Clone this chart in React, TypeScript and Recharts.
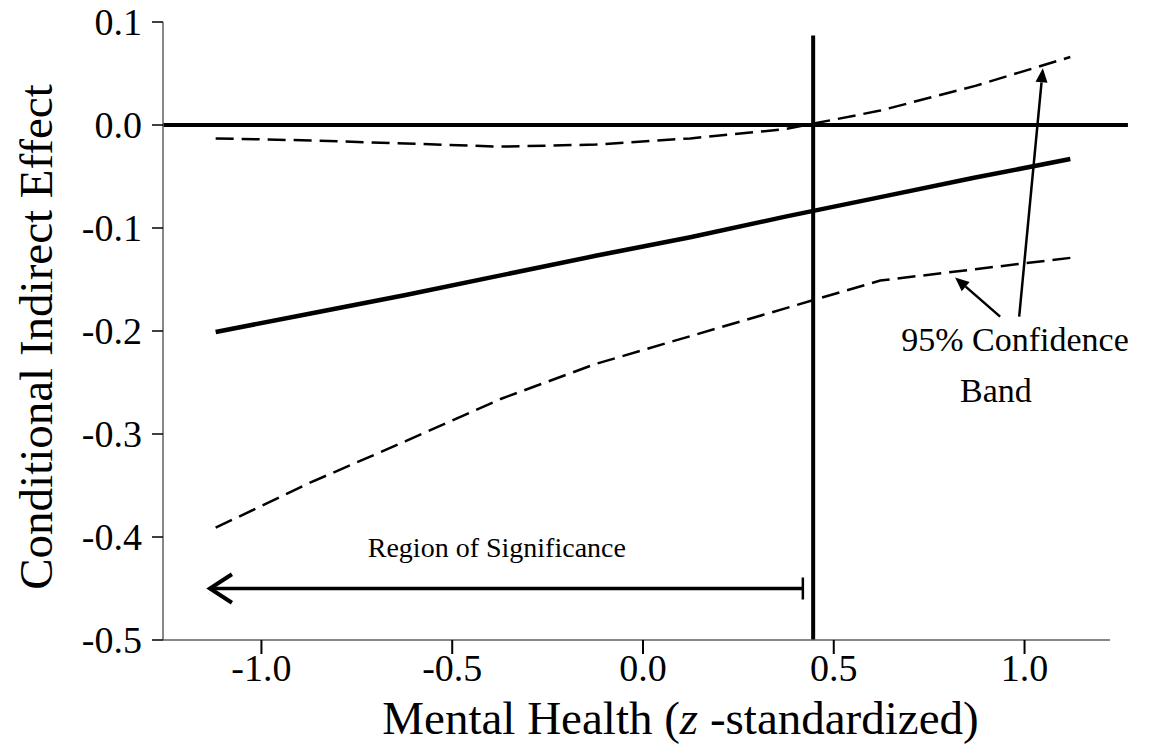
import React from 'react';
import { ComposedChart, Line, XAxis, YAxis, ReferenceLine, ReferenceDot, Label } from 'recharts';

const moderator = [-1.12, -0.871, -0.622, -0.373, -0.124, 0.124, 0.373, 0.622, 0.871, 1.12];
const effect = [-0.201, -0.183, -0.165, -0.146, -0.127, -0.109, -0.089, -0.07, -0.051, -0.033];
const lowerCI = [-0.391, -0.347, -0.307, -0.266, -0.232, -0.205, -0.178, -0.151, -0.14, -0.129];
const upperCI = [-0.013, -0.015, -0.018, -0.021, -0.019, -0.013, -0.004, 0.014, 0.038, 0.066];
const xTicks = [-1.0, -0.5, 0.0, 0.5, 1.0];
const yTicks = [0.1, 0.0, -0.1, -0.2, -0.3, -0.4, -0.5];
const xDomain: [number, number] = [-1.258, 1.224];
const yDomain: [number, number] = [-0.5, 0.1];
const jnPoint = 0.446;
const zeroLineEnd = 1.271;
const verticalTop = 0.087;
const regionArrow = { from: 0.419, to: -1.135, y: -0.45 };
const regionText = { x: -0.383, y: -0.41, text: 'Region of Significance' };
const bandText1 = { x: 0.975, y: -0.208, text: '95% Confidence' };
const bandText2 = { x: 0.925, y: -0.258, text: 'Band' };
const bandArrowLower = [{ x: 0.936, y: -0.186 }, { x: 0.818, y: -0.148 }];
const bandArrowUpper = [{ x: 0.986, y: -0.186 }, { x: 1.048, y: 0.055 }];

const data = moderator.map((x, i) => ({ x, effect: effect[i], lower: lowerCI[i], upper: upperCI[i] }));

const FONT = "'Liberation Serif', 'Times New Roman', serif";

const RegionArrowShape = (p: any) => {
  const { x1, y1, x2, y2 } = p;
  const head = 22;
  return (
    <g>
      <line x1={x1} y1={y1} x2={x2} y2={y2} stroke="#000" strokeWidth={3.5} />
      <line x1={x1} y1={y1 - 11} x2={x1} y2={y1 + 11} stroke="#000" strokeWidth={2.5} />
      <polyline
        points={`${x2 + head},${y2 - head * 0.65} ${x2},${y2} ${x2 + head},${y2 + head * 0.65}`}
        fill="none"
        stroke="#000"
        strokeWidth={4}
      />
    </g>
  );
};

const FilledArrowShape = (p: any) => {
  const { x1, y1, x2, y2 } = p;
  const dx = x2 - x1;
  const dy = y2 - y1;
  const len = Math.sqrt(dx * dx + dy * dy);
  const ux = dx / len;
  const uy = dy / len;
  const hl = 14;
  const hw = 6;
  const bx = x2 - ux * hl;
  const by = y2 - uy * hl;
  return (
    <g>
      <line x1={x1} y1={y1} x2={bx} y2={by} stroke="#000" strokeWidth={2.5} />
      <polygon
        points={`${x2},${y2} ${bx - uy * hw},${by + ux * hw} ${bx + uy * hw},${by - ux * hw}`}
        fill="#000"
      />
    </g>
  );
};

const makeText = (text: string, size: number) => (props: any) => {
  const vb = props.viewBox || {};
  const cx = (vb.x || 0) + (vb.width || 0) / 2;
  const cy = (vb.y || 0) + (vb.height || 0) / 2;
  return (
    <text x={cx} y={cy} textAnchor="middle" dominantBaseline="central" fontFamily={FONT} fontSize={size} fill="#000">
      {text}
    </text>
  );
};

const XTitle = (props: any) => {
  const vb = props.viewBox;
  const cx = vb.x + vb.width / 2 + 44;
  return (
    <text x={cx} y={vb.y + 94} textAnchor="middle" fontFamily={FONT} fontSize={47} fill="#000">
      Mental Health (<tspan fontStyle="italic">z</tspan> -standardized)
    </text>
  );
};

const YTitle = (props: any) => {
  const vb = props.viewBox;
  const cy = vb.y + vb.height / 2 + 6;
  const cx = 36;
  return (
    <text
      x={cx}
      y={cy}
      transform={`rotate(-90, ${cx}, ${cy})`}
      textAnchor="middle"
      dominantBaseline="central"
      fontFamily={FONT}
      fontSize={47}
      fill="#000"
    >
      Conditional Indirect Effect
    </text>
  );
};

export default function App() {
  return (
    <div style={{ position: 'absolute', left: 0, top: 0, background: '#fff' }}>
      <ComposedChart
        width={1150}
        height={749}
        data={data}
        margin={{ top: 22, right: 40, bottom: 0, left: 0 }}
      >
        <XAxis
          type="number"
          dataKey="x"
          domain={xDomain}
          ticks={xTicks}
          allowDataOverflow
          tickFormatter={(v: number) => v.toFixed(1)}
          height={109}
          tickSize={14}
          tickMargin={0}
          axisLine={{ stroke: '#606060', strokeWidth: 1.5 }}
          tickLine={{ stroke: '#000', strokeWidth: 2 }}
          tick={{ fill: '#000', fontSize: 38, fontFamily: FONT }}
        >
          <Label content={XTitle} />
        </XAxis>
        <YAxis
          type="number"
          domain={yDomain}
          ticks={yTicks}
          allowDataOverflow
          tickFormatter={(v: number) => v.toFixed(1)}
          width={163}
          tickSize={11}
          tickMargin={10}
          axisLine={{ stroke: '#606060', strokeWidth: 1.5 }}
          tickLine={{ stroke: '#000', strokeWidth: 1.5 }}
          tick={{ fill: '#000', fontSize: 38, fontFamily: FONT }}
        >
          <Label content={YTitle} />
        </YAxis>
        <ReferenceLine
          segment={[{ x: xDomain[0], y: 0 }, { x: zeroLineEnd, y: 0 }]}
          stroke="#000"
          strokeWidth={4}
          ifOverflow="visible"
        />
        <ReferenceLine
          segment={[{ x: jnPoint, y: yDomain[0] }, { x: jnPoint, y: verticalTop }]}
          stroke="#000"
          strokeWidth={4}
          ifOverflow="visible"
        />
        <Line type="linear" dataKey="upper" stroke="#000" strokeWidth={2.5} strokeDasharray="18 8" dot={false} isAnimationActive={false} />
        <Line type="linear" dataKey="lower" stroke="#000" strokeWidth={2.5} strokeDasharray="18 8" dot={false} isAnimationActive={false} />
        <Line type="linear" dataKey="effect" stroke="#000" strokeWidth={4.5} dot={false} isAnimationActive={false} />
        <ReferenceLine
          segment={[{ x: regionArrow.from, y: regionArrow.y }, { x: regionArrow.to, y: regionArrow.y }]}
          shape={RegionArrowShape}
          ifOverflow="visible"
        />
        <ReferenceLine segment={bandArrowLower} shape={FilledArrowShape} ifOverflow="visible" />
        <ReferenceLine segment={bandArrowUpper} shape={FilledArrowShape} ifOverflow="visible" />
        <ReferenceDot x={regionText.x} y={regionText.y} r={0} ifOverflow="visible" label={makeText(regionText.text, 28)} />
        <ReferenceDot x={bandText1.x} y={bandText1.y} r={0} ifOverflow="visible" label={makeText(bandText1.text, 34)} />
        <ReferenceDot x={bandText2.x} y={bandText2.y} r={0} ifOverflow="visible" label={makeText(bandText2.text, 34)} />
      </ComposedChart>
    </div>
  );
}
